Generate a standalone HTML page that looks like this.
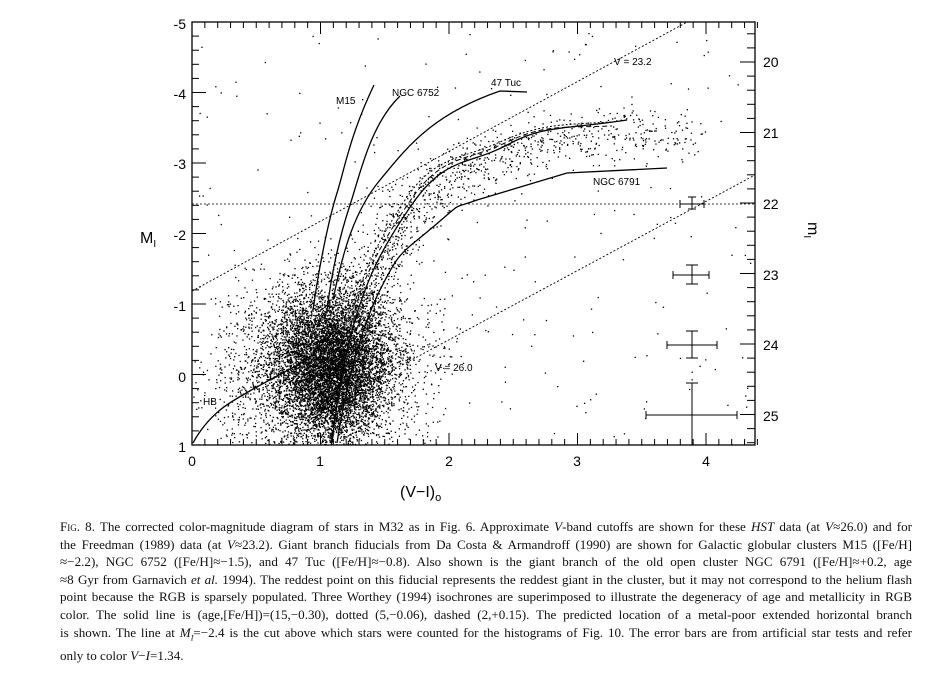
<!DOCTYPE html>
<html><head><meta charset="utf-8"><style>
html,body{margin:0;padding:0;background:#fff;}
body{width:938px;height:679px;position:relative;overflow:hidden;}
svg{position:absolute;left:0;top:0;}
.cap{position:absolute;left:60px;top:518px;width:852px;font-family:"Liberation Serif",serif;font-size:13.1px;line-height:17.6px;color:#111;}
.cap div{text-align:justify;text-align-last:justify;white-space:nowrap;}
.cap div.l{text-align-last:left;}
</style></head><body>
<svg id="s" width="938" height="679" xmlns="http://www.w3.org/2000/svg" font-family="Liberation Sans, sans-serif">
<defs><clipPath id="c"><rect x="192" y="22" width="563" height="423"/></clipPath></defs>
<g id="dots" clip-path="url(#c)" fill="#000"></g>
<g id="ticks" stroke="#000" stroke-width="1"></g>
<rect x="192" y="22" width="563" height="423" fill="none" stroke="#000" stroke-width="1.3"/>
<g clip-path="url(#c)" fill="none" stroke="#000">
<line x1="192" y1="204" x2="755" y2="204" stroke-width="0.8" stroke-dasharray="2,2"/>
<line x1="192" y1="291" x2="700" y2="15" stroke-width="0.9" stroke-dasharray="2,2"/>
<line x1="300" y1="420" x2="755" y2="175" stroke-width="0.9" stroke-dasharray="2,2"/>
<path d="M313,310 C320,260 330,215 337,193 S350,135 374,85" stroke-width="1.3"/>
<path d="M327,310 C332,270 340,235 350,205 S370,125 400,96" stroke-width="1.3"/>
<path d="M333,300 C343,250 355,210 380,180 S430,115 500,91 L527,92" stroke-width="1.3"/>
<path d="M193,443 C200,430 208,420 220,410 S260,385 307,360" stroke-width="1.3"/>
<path d="M332,443 C337,400 343,360 355,320 S380,250 413,203 S470,165 507,145 S560,130 627,120" stroke-width="1.3"/>
<path d="M330,443 C335,400 340,360 350,320 S375,245 405,200 S460,160 500,142 S560,125 610,122" stroke-width="1" stroke-dasharray="2,2"/>
<path d="M331,443 C336,400 342,360 352,320 S378,248 410,201 S465,162 505,143 S560,128 612,126" stroke-width="1" stroke-dasharray="5,3"/>
<path d="M337,443 C345,390 360,330 380,290 S400,255 433,227 S450,210 477,200 L567,173 L667,168" stroke-width="1.3"/>
</g>
<g stroke="#000" stroke-width="1">
<path d="M680,204H704M680,200v8M704,200v8M692,197v12"/>
<path d="M673,275H709M673,271v8M709,271v8M692,265v19"/>
<path d="M667,345H717M667,341v8M717,341v8M692,331v27"/>
<path d="M646,415H737M646,411v8M737,411v8M692,383v62M686,383h12"/>
<path d="M686,265h12M686,284h12M686,331h12M686,358h12M688,197h8M688,209h8"/>
</g>
<g font-size="10" fill="#000">
<text x="336" y="104">M15</text>
<text x="392" y="96">NGC 6752</text>
<text x="491" y="86">47 Tuc</text>
<text x="614" y="65">V = 23.2</text>
<text x="593" y="185">NGC 6791</text>
<text x="435" y="371">V = 26.0</text>
<text x="203" y="405">HB</text>
</g>
<g font-size="14" fill="#000">
<text x="186" y="29" text-anchor="end">-5</text>
<text x="186" y="99" text-anchor="end">-4</text>
<text x="186" y="169" text-anchor="end">-3</text>
<text x="186" y="240" text-anchor="end">-2</text>
<text x="186" y="311" text-anchor="end">-1</text>
<text x="186" y="382" text-anchor="end">0</text>
<text x="186" y="452" text-anchor="end">1</text>
<text x="192" y="466" text-anchor="middle">0</text>
<text x="320" y="466" text-anchor="middle">1</text>
<text x="449" y="466" text-anchor="middle">2</text>
<text x="577" y="466" text-anchor="middle">3</text>
<text x="706" y="466" text-anchor="middle">4</text>
<text x="763" y="67">20</text>
<text x="763" y="138">21</text>
<text x="763" y="209">22</text>
<text x="763" y="280">23</text>
<text x="763" y="350">24</text>
<text x="763" y="421">25</text>
<text x="400" y="497" font-size="16">(V−I)<tspan font-size="11" dy="4">o</tspan></text>
<text x="140" y="243" font-size="16">M<tspan font-size="10" dy="4">I</tspan></text>
<text transform="translate(808,222) rotate(90)" font-size="16">m<tspan font-size="10" dy="4">I</tspan></text>
</g>
</svg>
<div class="cap">
<div><span style="font-variant:small-caps">Fig.</span> 8. The corrected color-magnitude diagram of stars in M32 as in Fig. 6. Approximate <i>V</i>-band cutoffs are shown for these <i>HST</i> data (at <i>V</i>≈26.0) and for</div>
<div>the Freedman (1989) data (at <i>V</i>≈23.2). Giant branch fiducials from Da Costa &amp; Armandroff (1990) are shown for Galactic globular clusters M15 ([Fe/H]</div>
<div>≈−2.2), NGC 6752 ([Fe/H]≈−1.5), and 47 Tuc ([Fe/H]≈−0.8). Also shown is the giant branch of the old open cluster NGC 6791 ([Fe/H]≈+0.2, age</div>
<div>≈8 Gyr from Garnavich <i>et al.</i> 1994). The reddest point on this fiducial represents the reddest giant in the cluster, but it may not correspond to the helium flash</div>
<div>point because the RGB is sparsely populated. Three Worthey (1994) isochrones are superimposed to illustrate the degeneracy of age and metallicity in RGB</div>
<div>color. The solid line is (age,[Fe/H])=(15,−0.30), dotted (5,−0.06), dashed (2,+0.15). The predicted location of a metal-poor extended horizontal branch</div>
<div>is shown. The line at <i>M<sub style="font-size:8px">I</sub></i>=−2.4 is the cut above which stars were counted for the histograms of Fig. 10. The error bars are from artificial star tests and refer</div>
<div class="l">only to color <i>V</i>−<i>I</i>=1.34.</div>
</div>
<script>
(function(){
var seed=12345;function r(){seed=(seed*1103515245+12345)%2147483648;return seed/2147483648;}
function g(){var u=r()||1e-9,v=r();return Math.sqrt(-2*Math.log(u))*Math.cos(6.2832*v);}
var d=document.getElementById("dots"),h="";
function dot(x,y){h+='<rect x="'+x.toFixed(1)+'" y="'+y.toFixed(1)+'" width="1.3" height="1.3"/>';}
var i;
for(i=0;i<6500;i++){dot(328+g()*30,360+g()*36);}
for(i=0;i<2200;i++){dot(320+g()*50,375+g()*45);}
var pts=[[337,420],[345,360],[358,310],[375,270],[395,235],[415,203],[445,182],[477,165],[510,152],[545,140],[590,135],[640,130],[690,135]];
for(i=0;i<1800;i++){var t=Math.pow(r(),1.9)*(pts.length-1.01);var k=Math.floor(t),f=t-k;
var x=pts[k][0]+(pts[k+1][0]-pts[k][0])*f,y=pts[k][1]+(pts[k+1][1]-pts[k][1])*f;
dot(x+g()*15,y+g()*13);}
for(i=0;i<220;i++){dot(192+r()*560,30+r()*410);}
for(i=0;i<300;i++){dot(215+r()*230,300+r()*145);}
d.innerHTML=h;
var tk="",x,y,j;
for(j=0;j<=44;j++){x=192+j*12.85;var L=(j%10==0)?12:6;tk+='<line x1="'+x+'" y1="445" x2="'+x+'" y2="'+(445-L)+'"/><line x1="'+x+'" y1="22" x2="'+x+'" y2="'+(22+L)+'"/>';}
for(j=0;j<=30;j++){y=22+j*14.1;var L2=(j%5==0)?14:7;tk+='<line x1="192" y1="'+y+'" x2="'+(192+L2)+'" y2="'+y+'"/>';}
for(j=-3;j<=28;j++){y=62+j*14.1;if(y<22||y>445)continue;var L3=(j%5==0)?15:8;tk+='<line x1="755" y1="'+y+'" x2="'+(755-L3)+'" y2="'+y+'"/>';}
document.getElementById("ticks").innerHTML=tk;
})();
</script>
</body></html>
